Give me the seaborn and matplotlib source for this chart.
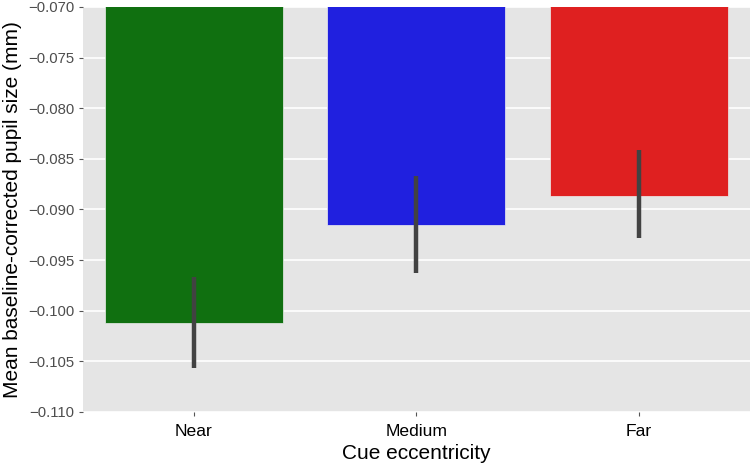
import matplotlib
matplotlib.use("Agg")
import matplotlib.pyplot as plt
import seaborn as sns
import pandas as pd

categories = ["Near", "Medium", "Far"]
means = [-0.1012, -0.0915, -0.0887]
ci_low = [-0.1057, -0.0963, -0.0928]
ci_high = [-0.0967, -0.0867, -0.0841]
palette = ["green", "blue", "red"]
yticks = [-0.110, -0.105, -0.100, -0.095, -0.090, -0.085, -0.080, -0.075, -0.070]

sns.set_style("darkgrid", {"axes.facecolor": "#E5E5E5", "grid.color": "white"})
plt.rcParams["font.family"] = ["Liberation Sans", "DejaVu Sans"]

df = pd.DataFrame({"cue": categories, "value": means})

fig = plt.figure(figsize=(7.52, 4.66), dpi=100)
ax = fig.add_axes([0.110, 0.116, 0.887, 0.869])
sns.barplot(data=df, x="cue", y="value", hue="cue", palette=palette,
            errorbar=None, legend=False, ax=ax,
            edgecolor="#EEEEEE", linewidth=0.5)
ax.vlines(range(len(categories)), ci_low, ci_high, color="#424242", linewidth=3.2)

ax.set_ylim(-0.110, -0.070)
ax.set_xlim(-0.5, 2.5)
ax.set_yticks(yticks)
ax.set_yticklabels([f"{t:.3f}".replace("-", "\u2212") for t in yticks])
ax.xaxis.grid(False)
ax.yaxis.grid(True, color="white", linewidth=1.2)
for s in ax.spines.values():
    s.set_visible(False)
ax.tick_params(axis="y", labelsize=10.7, labelcolor="#4D4D4D", color="#555555",
               length=3, width=0.8, left=True, pad=3)
ax.tick_params(axis="x", labelsize=12.6, labelcolor="black", color="#555555",
               length=3, width=0.8, bottom=True, pad=6)
ax.set_xlabel("Cue eccentricity", fontsize=15, color="black", labelpad=3)
ax.set_ylabel("Mean baseline-corrected pupil size (mm)", fontsize=15, color="black")

fig.savefig("out.png", dpi=100)
